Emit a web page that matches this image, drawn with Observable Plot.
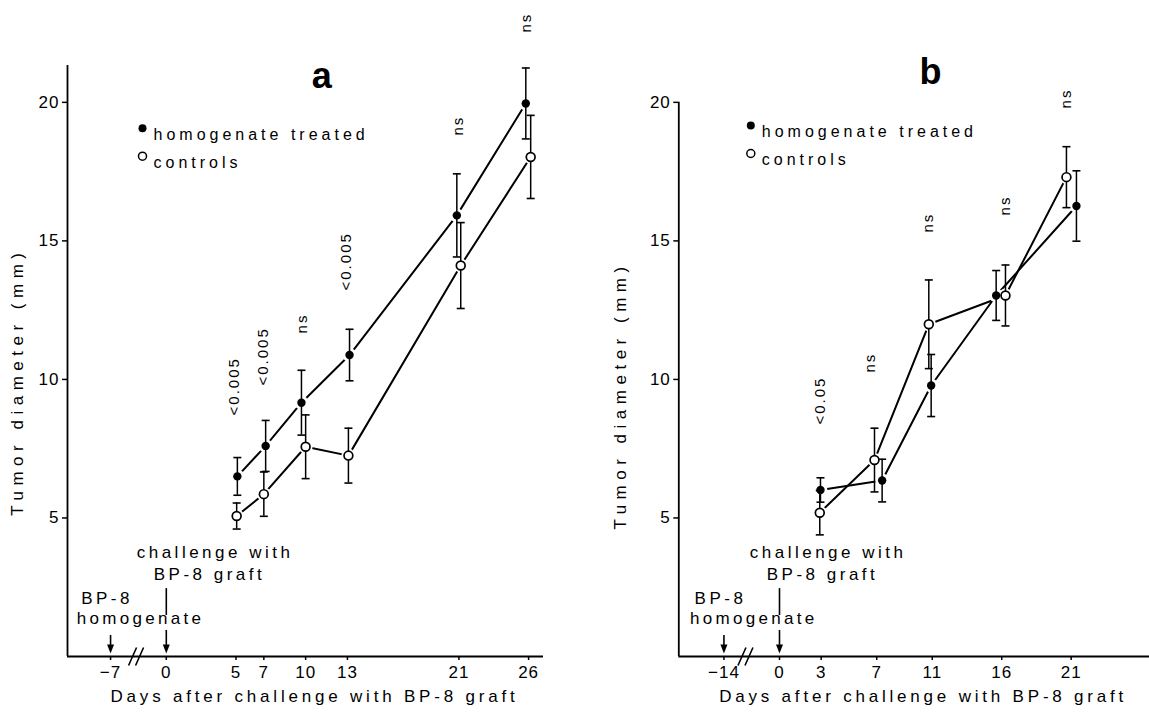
<!DOCTYPE html>
<html><head><meta charset="utf-8">
<script src="https://cdn.jsdelivr.net/npm/d3@7"></script>
<script src="https://cdn.jsdelivr.net/npm/@observablehq/plot@0.6"></script>
<style>
body{margin:0;background:#fff;}
#wrap{display:flex;width:1149px;height:713px;overflow:hidden;}
svg{overflow:visible;}
</style></head><body><div id="wrap"></div>
<script>
// ---------- Panel a ----------
const ticksA = [-7, 0, 5, 7, 10, 13, 21, 26];
const breakShiftA = 3;              // days before the axis break are drawn shifted by this
const treatedXA = [5.1, 7.13, 9.7, 13.15, 20.85, 25.8];
const treatedYA = [6.5, 7.6, 9.16, 10.88, 15.92, 19.96];
const treatedErrA = [0.68, 0.92, 1.17, 0.93, 1.5, 1.28];
const controlXA = [5.05, 7.0, 10.0, 13.07, 21.13, 26.15];
const controlYA = [5.07, 5.86, 7.57, 7.25, 14.11, 18.03];
const controlErrA = [0.47, 0.8, 1.15, 0.99, 1.55, 1.5];
const sigTextA = ["<0.005", "<0.005", "ns", "<0.005", "ns", "ns"];
const sigXA = [4.85, 6.98, 9.76, 12.94, 20.93, 25.86];
const sigYA = [8.7, 9.78, 11.66, 13.21, 18.8, 22.52];

// ---------- Panel b ----------
const ticksB = [-14, 0, 3, 7, 11, 16, 21];
const breakShiftB = 10;
const treatedXB = [2.95, 7.39, 10.92, 15.6, 21.38];
const treatedYB = [6.01, 6.35, 9.78, 13.03, 16.26];
const treatedErrB = [0.44, 0.77, 1.12, 0.9, 1.27];
const controlXB = [2.9, 6.84, 10.75, 16.27, 20.66];
const controlYB = [5.19, 7.09, 11.99, 13.03, 17.3];
const controlErrB = [0.8, 1.15, 1.6, 1.1, 1.1];
const sigTextB = ["<0.05", "ns", "ns", "ns", "ns"];
const sigXB = [2.9, 6.55, 10.73, 16.27, 20.66];
const sigYB = [8.37, 10.25, 15.3, 15.92, 19.78];

const yTicks = [5, 10, 15, 20];
const legendLabels = ["homogenate treated", "controls"];
const xLabel = "Days after challenge with BP-8 graft";
const yLabel = "Tumor diameter (mm)";

const capSym = {draw(c) { c.moveTo(-4, 0); c.lineTo(4, 0); }};
const slashSym = {draw(c) { for (const k of [-3.5, 3.5]) { c.moveTo(k - 4, 9); c.lineTo(k + 4, -9); } }};
const triSym = {draw(c) { c.moveTo(-3.5, -12); c.lineTo(3.5, -12); c.lineTo(0, -3); c.closePath(); }};

function makePanel(o) {
  const pos = d => (d < 0 ? d + o.shift : d);
  const rows = (xs, ys, es) => xs.map((x, i) => ({x, y: ys[i], lo: ys[i] - es[i], hi: ys[i] + es[i]}));
  const tr = rows(o.tX, o.tY, o.tE), ct = rows(o.cX, o.cY, o.cE);
  const all = tr.concat(ct);
  const sig = o.sigT.map((t, i) => ({t, x: o.sigX[i], y: o.sigY[i]}));
  const tickLabel = new Map(o.ticks.map(t => [pos(t), t < 0 ? "\u2212" + (-t) : String(t)]));
  const x0 = o.xDomain[0];
  const pre = pos(o.ticks[0]);
  const svg = Plot.plot({
    width: o.width, height: 713,
    marginLeft: o.ml, marginRight: o.mr, marginTop: 65, marginBottom: 57,
    x: {domain: o.xDomain}, y: {domain: [0, 21.33]},
    style: {fontFamily: "'Liberation Sans', Arial, sans-serif", fontSize: "17px", color: "#000", background: "#fff", overflow: "visible"},
    marks: [
      Plot.axisX({ticks: o.ticks.map(pos), tickFormat: d => tickLabel.get(d), tickSize: 4, tickPadding: 5, fontSize: 17, label: null, strokeWidth: 1.5}),
      Plot.axisY({ticks: yTicks, tickSize: 5, tickPadding: 3, fontSize: 17, label: null, strokeWidth: 1.5}),
      Plot.ruleY([0], {strokeWidth: 1.8}),
      Plot.ruleX([x0], {y1: 0, y2: o.yAxisTop, strokeWidth: 1.8}),
      // axis break
      Plot.dot([o.breakX], {x: d => d, y: 0, symbol: slashSym, stroke: "black", strokeWidth: 1.6, r: 5}),
      // event arrows
      Plot.ruleX([pre], {y1: 0.76, y2: 0.4, strokeWidth: 1.6}),
      Plot.dot([pre], {x: d => d, y: 0, symbol: triSym, fill: "black", r: 5}),
      Plot.ruleX([0], {y1: 2.45, y2: 1.48, strokeWidth: 1.6}),
      Plot.ruleX([0], {y1: 0.94, y2: 0.4, strokeWidth: 1.6}),
      Plot.dot([0], {x: d => d, y: 0, symbol: triSym, fill: "black", r: 5}),
      Plot.text(["challenge with"], {x: 3.5, frameAnchor: "bottom", dy: -99, fontSize: 17}),
      Plot.text(["BP-8 graft"], {x: 3.1, frameAnchor: "bottom", dy: -77, fontSize: 17}),
      Plot.text(["BP-8"], {x: pre - 0.25, frameAnchor: "bottom", dy: -53, fontSize: 17}),
      Plot.text(["homogenate"], {x: -1.85, frameAnchor: "bottom", dy: -33, fontSize: 17}),
      // series
      Plot.line(tr, {x: "x", y: "y", strokeWidth: 2}),
      Plot.line(ct, {x: "x", y: "y", strokeWidth: 2}),
      Plot.dot(all, {x: "x", y: "y", r: 7, fill: "white"}),
      Plot.ruleX(all, {x: "x", y1: "lo", y2: "hi", strokeWidth: 1.5}),
      Plot.dot(all, {x: "x", y: "lo", symbol: capSym, stroke: "black", strokeWidth: 1.6, r: 4}),
      Plot.dot(all, {x: "x", y: "hi", symbol: capSym, stroke: "black", strokeWidth: 1.6, r: 4}),
      Plot.dot(tr, {x: "x", y: "y", r: 4.2, fill: "black"}),
      Plot.dot(ct, {x: "x", y: "y", r: 4.4, fill: "white", stroke: "black", strokeWidth: 1.7}),
      // significance labels
      Plot.text(sig, {x: "x", y: "y", text: "t", rotate: -90, textAnchor: "start", fontSize: 15}),
      // title
      Plot.text([o.title], {x: o.titleX, frameAnchor: "top", dy: o.titleDy, lineAnchor: "bottom", fontSize: 36, fontWeight: "bold"}),
      // legend
      Plot.dot([0], {frameAnchor: "top-left", dx: o.legDx, dy: o.legDy, r: 4, fill: "black"}),
      Plot.dot([0], {frameAnchor: "top-left", dx: o.legDx, dy: o.legDy + 28, r: 4, fill: "white", stroke: "black", strokeWidth: 1.5}),
      Plot.text([legendLabels[0]], {frameAnchor: "top-left", dx: o.legDx + 11, dy: o.legDy, textAnchor: "start", fontSize: 16}),
      Plot.text([legendLabels[1]], {frameAnchor: "top-left", dx: o.legDx + 11, dy: o.legDy + 28, textAnchor: "start", fontSize: 16}),
      // axis labels
      Plot.text([xLabel], {frameAnchor: "bottom", dx: 9, dy: 45, fontSize: 17}),
      Plot.text([yLabel], {x: o.ylX, y: o.ylY, rotate: -90, fontSize: 17})
    ]
  });
  const sp = {"homogenate treated": "4px", "controls": "4px", [xLabel]: "3.8px", [yLabel]: "5.5px",
    "challenge with": "3.5px", "BP-8 graft": "3.5px", "BP-8": "3.5px", "homogenate": "3.3px",
    "ns": "2px", "<0.005": "2px", "<0.05": "2px"};
  svg.querySelectorAll("text").forEach(t => {
    const s = sp[t.textContent];
    t.setAttribute("letter-spacing", s != null ? s : "1px");
  });
  return svg;
}

const wrap = document.getElementById("wrap");
wrap.appendChild(makePanel({
  width: 574, ml: 67, mr: 31, xDomain: [-7.09, 27.07], shift: breakShiftA, ticks: ticksA,
  tX: treatedXA, tY: treatedYA, tE: treatedErrA, cX: controlXA, cY: controlYA, cE: controlErrA,
  sigT: sigTextA, sigX: sigXA, sigY: sigYA, yAxisTop: 21.33, breakX: -2.17,
  title: "a", titleX: 11.2, titleDy: 22, legDx: 75, legDy: 62.7, ylX: -10.68, ylY: 9.92
}));
wrap.appendChild(makePanel({
  width: 575, ml: 104.3, mr: 0, xDomain: [-7.25, 26.64], shift: breakShiftB, ticks: ticksB,
  tX: treatedXB, tY: treatedYB, tE: treatedErrB, cX: controlXB, cY: controlYB, cE: controlErrB,
  sigT: sigTextB, sigX: sigXB, sigY: sigYB, yAxisTop: 20, breakX: -2.45,
  title: "b", titleX: 10.9, titleDy: 18, legDx: 72, legDy: 60, ylX: -11.45, ylY: 9.42
}));
</script></body></html>
